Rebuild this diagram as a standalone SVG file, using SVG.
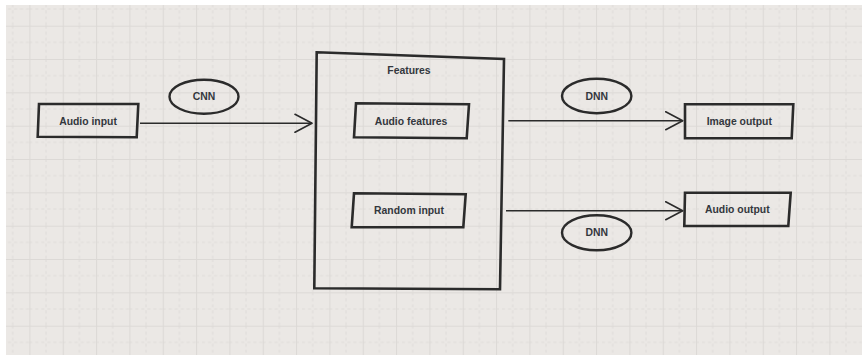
<svg xmlns="http://www.w3.org/2000/svg" width="864" height="355" viewBox="0 0 864 355">
  <defs>
    <!-- sheet grid: major lines solid, minor lines dashed -->
    <pattern id="grid" patternUnits="userSpaceOnUse" x="29.4" y="25.7" width="33.333" height="33.333">
      <rect width="33.333" height="33.333" fill="#ebe8e5"/>
      <line x1="16.667" y1="0" x2="16.667" y2="33.333" stroke="#dfdcd9" stroke-width="1" stroke-dasharray="3 3"/>
      <line x1="0" y1="16.667" x2="33.333" y2="16.667" stroke="#dfdcd9" stroke-width="1" stroke-dasharray="3 3"/>
      <line x1="0.5" y1="0" x2="0.5" y2="33.333" stroke="#dcd9d6" stroke-width="1"/>
      <line x1="0" y1="0.5" x2="33.333" y2="0.5" stroke="#dcd9d6" stroke-width="1"/>
    </pattern>
    <marker id="chev" viewBox="0 0 20 20" refX="18" refY="10" markerWidth="20" markerHeight="20" markerUnits="userSpaceOnUse" orient="auto">
      <path d="M1 1 L18 10 L1 19" fill="none" stroke="#2b2b2b" stroke-width="1.6" stroke-linecap="round" stroke-linejoin="round"/>
    </marker>
    <style>
      .box { fill: none; stroke: #2b2b2b; stroke-width: 2.6; stroke-linejoin: miter; }
      .oval { fill: none; stroke: #2b2b2b; stroke-width: 2.4; }
      .wire { fill: none; stroke: #2b2b2b; stroke-width: 1.6; marker-end: url(#chev); }
      .lbl { font-family: "Liberation Sans", Arial, sans-serif; font-size: 10.4px; font-weight: bold; fill: #33373d; text-anchor: middle; }
    </style>
  </defs>

  <rect x="0" y="0" width="864" height="355" fill="#ffffff"/>
  <rect x="6" y="5" width="856" height="350" fill="url(#grid)"/>

  <!-- connectors -->
  <g id="connectors">
    <line class="wire" x1="140" y1="123.3" x2="312" y2="123.3"/>
    <line class="wire" x1="508.3" y1="120.7" x2="682.7" y2="120.7"/>
    <line class="wire" x1="506" y1="210.7" x2="682.7" y2="210.7"/>
    <g id="cnn">
      <ellipse class="oval" cx="204" cy="96.7" rx="34.5" ry="17"/>
      <text class="lbl" x="204" y="100.3">CNN</text>
    </g>
    <g id="dnn-top">
      <ellipse class="oval" cx="596.7" cy="96" rx="34.7" ry="17.2"/>
      <text class="lbl" x="596.7" y="99.6">DNN</text>
    </g>
    <g id="dnn-bottom">
      <ellipse class="oval" cx="596.7" cy="232.7" rx="34.7" ry="17.5"/>
      <text class="lbl" x="596.7" y="236.3">DNN</text>
    </g>
  </g>

  <g id="audio-input">
    <polygon class="box" points="39,104 138.3,104 136.7,137.3 37.7,136.7"/>
    <text class="lbl" x="88" y="124.6">Audio input</text>
  </g>

  <g id="features">
    <polygon class="box" points="316.7,52.3 504,59 500,289.3 314.3,288.3"/>
    <text class="lbl" x="409" y="73.6">Features</text>
  </g>

  <g id="audio-features">
    <polygon class="box" points="356,103.3 469,104.3 466.7,138.3 354,137.3"/>
    <text class="lbl" x="411" y="124.6">Audio features</text>
  </g>

  <g id="random-input">
    <polygon class="box" points="354,193.3 465.7,194.3 463.3,227.3 351.7,227.3"/>
    <text class="lbl" x="409" y="214.3">Random input</text>
  </g>

  <g id="image-output">
    <polygon class="box" points="685,104.3 793.3,104.3 791.7,138.3 685,138.3"/>
    <text class="lbl" x="739.3" y="125.3">Image output</text>
  </g>

  <g id="audio-output">
    <polygon class="box" points="685,192.7 790.7,192.7 788.3,226 684.3,226"/>
    <text class="lbl" x="737.3" y="212.9">Audio output</text>
  </g>
</svg>
